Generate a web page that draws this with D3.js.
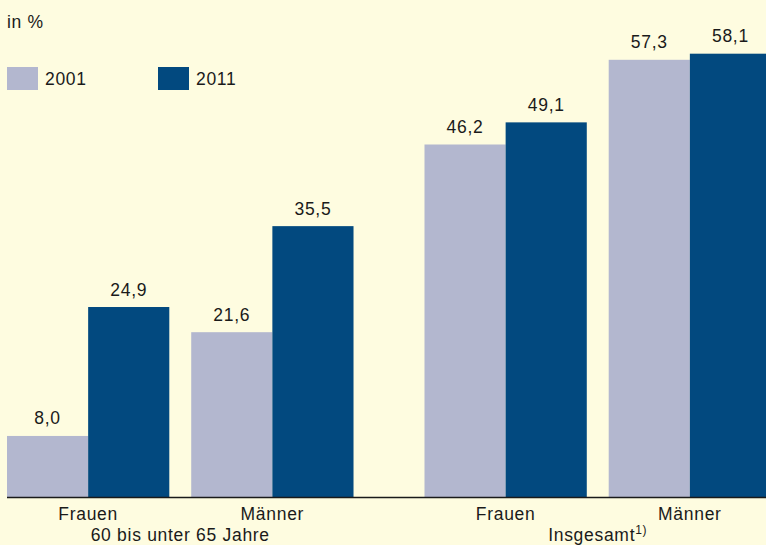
<!DOCTYPE html>
<html>
<head>
<meta charset="utf-8">
<script src="https://cdn.jsdelivr.net/npm/d3@7"></script>
<style>
  html, body { margin: 0; padding: 0; background: #fefce0; }
  svg { display: block; }
  text { letter-spacing: 0.7px; }
</style>
</head>
<body>
<div id="chart"></div>
<script>
// --- DATA ---
const groups = ["60 bis unter 65 Jahre", "Insgesamt"];
const categories = ["Frauen", "Männer"];
const years = ["2001", "2011"];
const values2001 = [8.0, 21.6, 46.2, 57.3];
const values2011 = [24.9, 35.5, 49.1, 58.1];

const width = 766, height = 545;
const baseY = 497;
const colors = { "2001": "#b3b7cf", "2011": "#02497f" };
const font = "'Liberation Sans', Arial, sans-serif";
const fs = "17.5px";

const data = [];
groups.forEach((g, gi) => {
    categories.forEach((c, ci) => {
        const i = gi * 2 + ci;
        data.push({ group: g, cat: c, year: "2001", value: values2001[i] });
        data.push({ group: g, cat: c, year: "2011", value: values2011[i] });
    });
});

const svg = d3.select("#chart").append("svg")
    .attr("width", width).attr("height", height)
    .style("font-family", font);

// --- SCALES ---
const x0 = d3.scaleBand().domain(groups).range([7, 771]).paddingInner(0.17);
const x1 = d3.scaleBand().domain(categories).range([0, x0.bandwidth()]).paddingInner(0.119);
const x2 = d3.scaleBand().domain(years).range([0, x1.bandwidth()]);
const y = d3.scaleLinear().domain([0, 60]).range([baseY, baseY - 60 * 7.63]);

const xPos = d => x0(d.group) + x1(d.cat) + x2(d.year);

// --- BARS ---
svg.append("g").selectAll("rect").data(data).join("rect")
    .attr("x", xPos)
    .attr("y", d => y(d.value))
    .attr("width", x2.bandwidth())
    .attr("height", d => baseY - y(d.value))
    .attr("fill", d => colors[d.year]);

svg.append("g").selectAll("text").data(data).join("text")
    .attr("x", d => xPos(d) + x2.bandwidth() / 2)
    .attr("y", d => y(d.value) - 11.5)
    .attr("text-anchor", "middle")
    .style("font-size", fs).attr("fill", "#1a1a1a")
    .text(d => d3.format(".1f")(d.value).replace(".", ","));

// axis line
svg.append("line")
    .attr("x1", 7).attr("x2", width).attr("y1", baseY + 0.5).attr("y2", baseY + 0.5)
    .attr("stroke", "#1a1a1a").attr("stroke-width", 1.5);

// category labels
groups.forEach(g => {
    categories.forEach(c => {
        svg.append("text")
            .attr("x", x0(g) + x1(c) + x1.bandwidth() / 2)
            .attr("y", 520)
            .attr("text-anchor", "middle")
            .style("font-size", fs).attr("fill", "#1a1a1a")
            .text(c);
    });
});

// group labels
svg.append("text")
    .attr("x", x0(groups[0]) + x0.bandwidth() / 2).attr("y", 541)
    .attr("text-anchor", "middle").style("font-size", fs).attr("fill", "#1a1a1a")
    .text(groups[0]);

const g2 = svg.append("text")
    .attr("x", x0(groups[1]) + x0.bandwidth() / 2).attr("y", 541)
    .attr("text-anchor", "middle").style("font-size", fs).attr("fill", "#1a1a1a");
g2.append("tspan").text(groups[1]);
g2.append("tspan").attr("dy", -7).style("font-size", "12px").text("1)");

// unit
svg.append("text").attr("x", 7).attr("y", 28)
    .style("font-size", fs).attr("fill", "#1a1a1a").text("in %");

// legend
const legend = svg.append("g").selectAll("g").data(years).join("g")
    .attr("transform", (d, i) => `translate(${7 + i * 151},67)`);
legend.append("rect").attr("width", 31).attr("height", 23).attr("fill", d => colors[d]);
legend.append("text").attr("x", 38).attr("y", 18)
    .style("font-size", fs).attr("fill", "#1a1a1a").text(d => d);
</script>
</body>
</html>
